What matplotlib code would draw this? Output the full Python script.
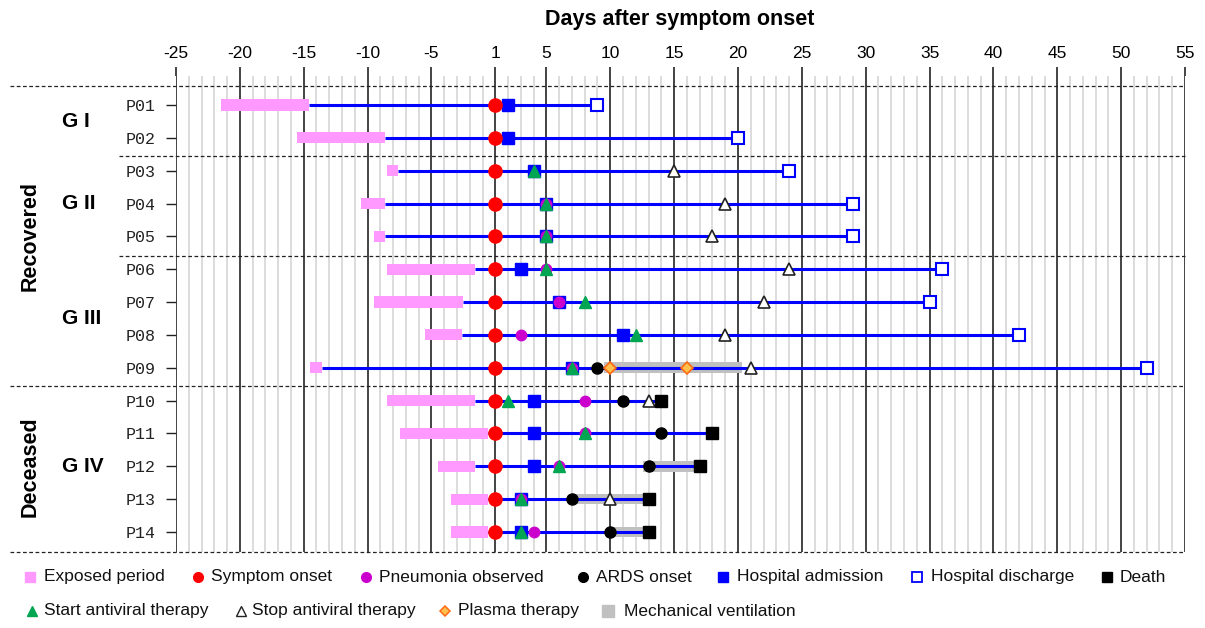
import matplotlib.pyplot as plt
import numpy as np
from matplotlib.transforms import blended_transform_factory
from matplotlib.ticker import FixedLocator, MultipleLocator

plt.rcParams['font.family'] = ['Liberation Sans', 'DejaVu Sans']

# ---- data (days after symptom onset, there is no day 0) ----
patients = ['P01', 'P02', 'P03', 'P04', 'P05', 'P06', 'P07',
            'P08', 'P09', 'P10', 'P11', 'P12', 'P13', 'P14']
nan = np.nan
expo_start = [-21.5, -15.5, -8.5, -10.5, -9.5, -8.5, -9.5, -5.5, -14.5, -8.5, -7.5, -4.5, -3.5, -3.5]
expo_end = [-14.6, -8.6, -7.6, -8.6, -8.6, -1.6, -2.5, -2.6, -13.6, -1.6, -0.6, -1.6, -0.6, -0.6]
onset = [1] * 14
admission = [2, 2, 4, 5, 5, 3, 6, 11, 7, 4, 4, 4, 3, 3]
pneumonia = [nan, nan, nan, 5, 5, 5, 6, 3, 7, 8, 8, 6, 3, 4]
ards = [nan, nan, nan, nan, nan, nan, nan, nan, 9, 11, 14, 13, 7, 10]
av_start = [nan, nan, 4, 5, 5, 5, 8, 12, 7, 2, 8, 6, 3, 3]
av_stop = [nan, nan, 15, 19, 18, 24, 22, 19, 21, 13, nan, nan, 10, nan]
discharge = [9, 20, 24, 29, 29, 36, 35, 42, 52, nan, nan, nan, nan, nan]
death = [nan, nan, nan, nan, nan, nan, nan, nan, nan, 14, 18, 17, 13, 13]
vent_start = [nan, nan, nan, nan, nan, nan, nan, nan, 9.5, nan, nan, 12.6, 7, 10]
vent_end = [nan, nan, nan, nan, nan, nan, nan, nan, 20.3, nan, nan, 17.3, 13.3, 13.3]
plasma_patient = 'P09'
plasma_days = [10, 16]

tick_days = [-25, -20, -15, -10, -5, 1, 5, 10, 15, 20, 25, 30, 35, 40, 45, 50, 55]
groups = ['G I', 'G II', 'G III', 'G IV']
group_rows = [0.5, 3, 6.5, 11]
outcomes = ['Recovered', 'Deceased']
outcome_rows = [4, 11]


def pos(d):
    # axis position: day 1 sits right after day -1
    d = np.asarray(d, dtype=float)
    return np.where(d < 0, d, d - 1)


rows = np.arange(len(patients))

fig = plt.figure(figsize=(12.05, 6.28), dpi=100)
ax = fig.add_axes([176/1205, 1 - 552/628, 1009/1205, 476/628])

ax.set_xlim(pos(-25), pos(55))
ax.set_ylim(13.61, -0.883)

ax.xaxis.tick_top()
ax.xaxis.set_major_locator(FixedLocator(pos(tick_days)))
ax.set_xticklabels([str(t) for t in tick_days])
ax.xaxis.set_minor_locator(MultipleLocator(1))
ax.tick_params(axis='x', which='major', length=6.5, width=1.1, color='#111', pad=4,
               labelsize=12.5)
ax.tick_params(axis='x', which='minor', length=0)
ax.grid(which='minor', axis='x', color='#d9d9d9', lw=1.3)
ax.grid(which='major', axis='x', color='#111', lw=1.1)
ax.set_axisbelow(True)

ax.set_yticks(rows)
ax.set_yticklabels(patients, family=['Liberation Mono'], fontsize=12, color='#222')
ax.tick_params(axis='y', length=7, width=1, color='#222', pad=8)
for s in ax.spines.values():
    s.set_visible(False)

# exposure, stay line, ventilation
ax.barh(rows, pos(expo_end) - pos(expo_start), left=pos(expo_start), height=0.34,
        color='#FF99FF', zorder=4)
end = np.fmax(np.array(discharge, float), np.array(death, float))
ax.hlines(rows, pos(expo_end), pos(end), color='#0000FF', lw=2.2, zorder=3)
vs = np.array(vent_start, float)
ve = np.array(vent_end, float)
m = ~np.isnan(vs)
ax.barh(rows[m], pos(ve[m]) - pos(vs[m]), left=pos(vs[m]), height=0.32,
        color='#C0C0C0', zorder=2.5)

# events
ax.plot(pos(admission), rows, 's', ms=8.5, color='#0000FF', zorder=5)
ax.plot(pos(pneumonia), rows, 'o', ms=7.5, color='#CC00CC', zorder=6)
ax.plot(pos(av_start), rows, '^', ms=8, color='#00A651', zorder=7)
ax.plot(pos(onset), rows, 'o', ms=9.5, color='#FF0000', zorder=7)
ax.plot(pos(ards), rows, 'o', ms=8, color='black', zorder=7)
ax.plot(pos(av_stop), rows, '^', ms=8, mfc='white', mec='#222', mew=1.2, zorder=7)
ax.plot(pos(discharge), rows, 's', ms=8.5, mfc='white', mec='#0000FF', mew=1.5, zorder=7)
ax.plot(pos(death), rows, 's', ms=9, color='black', zorder=7)
ax.plot(pos(plasma_days), [patients.index(plasma_patient)] * len(plasma_days), 'D', ms=6,
        mfc='#FFC04D', mec='#FF6A13', mew=1.2, zorder=8)

# dashed group separators
tr = blended_transform_factory(ax.transAxes, ax.transData)
for y, x0 in [(-0.58, -0.165), (1.55, -0.056), (4.6, -0.056), (8.55, -0.165), (13.6, -0.165)]:
    ax.plot([x0, 1], [y, y], transform=tr, color='#222', lw=0.9, ls=(0, (3, 2)),
            clip_on=False, zorder=1)

for g, r in zip(groups, group_rows):
    ax.text(-0.113, r, g, transform=tr, ha='left', va='center', fontsize=15,
            fontweight='bold')
for o, r in zip(outcomes, outcome_rows):
    ax.text(-0.1445, r, o, transform=tr, ha='center', va='center', fontsize=15.5,
            fontweight='bold', rotation=90)

fig.text(680/1205, 1 - 20/628, 'Days after symptom onset', ha='center', va='center',
         fontsize=15.5, fontweight='bold')

# legend, laid out as in the source image
lax = fig.add_axes([0, 0, 1, 1])
lax.set_xlim(0, 1205)
lax.set_ylim(628, 0)
lax.axis('off')
leg = [
    (30, 44, 577, dict(marker='s', ms=7.5, color='#FF99FF'), 'Exposed period'),
    (198, 211, 577, dict(marker='o', ms=7, color='#FF0000'), 'Symptom onset'),
    (366, 379, 577, dict(marker='o', ms=7, color='#CC00CC'), 'Pneumonia observed'),
    (583, 596, 577, dict(marker='o', ms=7, color='black'), 'ARDS onset'),
    (723, 737, 577, dict(marker='s', ms=7, color='#0000FF'), 'Hospital admission'),
    (917, 931, 577, dict(marker='s', ms=7, mfc='white', mec='#0000FF', mew=1.3), 'Hospital discharge'),
    (1107, 1120, 577, dict(marker='s', ms=7, color='black'), 'Death'),
    (32, 44, 611, dict(marker='^', ms=7, color='#00A651'), 'Start antiviral therapy'),
    (241, 252, 611, dict(marker='^', ms=7, mfc='white', mec='#222', mew=1), 'Stop antiviral therapy'),
    (445, 458, 611, dict(marker='D', ms=5.5, mfc='#FFC04D', mec='#FF6A13', mew=1.1), 'Plasma therapy'),
    (608, 624, 611, dict(marker='s', ms=8, color='#C0C0C0'), 'Mechanical ventilation'),
]
for mx, tx, y, style, label in leg:
    lax.plot([mx], [y], ls='none', **style)
    lax.text(tx, y, label, ha='left', va='center', fontsize=12.5, color='#111')

fig.savefig('out.png', dpi=100)
